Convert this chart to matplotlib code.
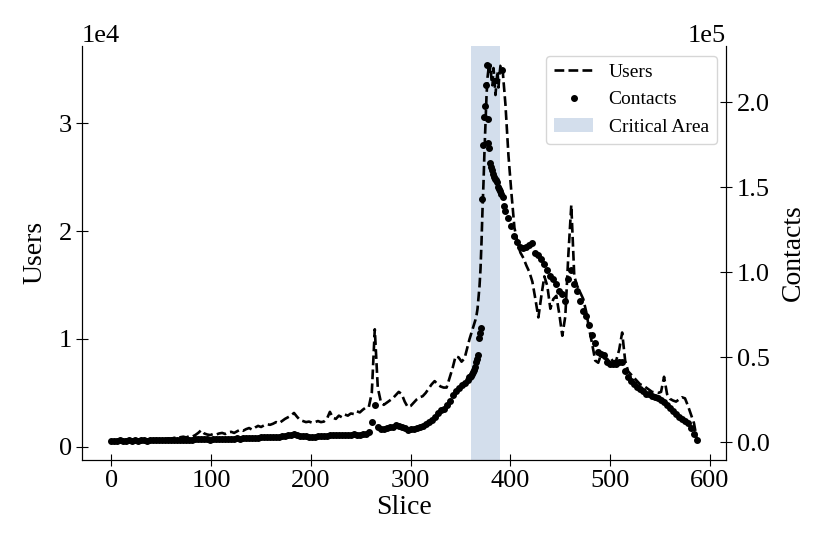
import matplotlib
matplotlib.use("Agg")
import matplotlib.pyplot as plt
from matplotlib.ticker import MultipleLocator

plt.rcParams["font.family"] = ["Liberation Serif", "DejaVu Serif"]

# slice index, step 3 outside the critical window, step 1 inside it
slices = (list(range(0, 358, 3)) + list(range(358, 396)) + list(range(398, 588, 3)))

users = [
    550, 600, 650, 580, 640, 700, 620, 680, 600, 650, 720, 640, 700, 620, 680, 750,
    700, 650, 720, 800, 760, 850, 800, 900, 950, 880, 1000, 950, 1100, 1300, 1550, 1250,
    1150, 1100, 1200, 1150, 1250, 1300, 1200, 1350, 1400, 1300, 1450, 1600, 1500, 1650, 1750, 1600,
    1800, 1950, 1850, 2000, 2100, 2050, 2150, 2300, 2200, 2400, 2600, 2750, 2900, 3150, 2800, 2500,
    2400, 2300, 2350, 2250, 2300, 2400, 2300, 2350, 2600, 3250, 2700, 2600, 2900, 2750, 3000, 2900,
    3100, 3050, 3300, 3200, 3450, 3650, 3700, 5000, 10900, 5500, 4200, 3900, 4100, 4300, 4500, 4800,
    5100, 4900, 4200, 3700, 3800, 4100, 4400, 4600, 4700, 5000, 5400, 5800, 6100, 5800, 5600, 5500,
    5500, 6400, 7300, 8400, 8300, 7900, 8200, 9300,
    # 358 .. 395
    9700, 10000, 10300, 10600, 10900, 11200, 11500, 11800, 12200, 12800, 13800, 14900, 16500, 19000,
    22000, 24500, 27500, 30000, 32500, 34200, 35000, 34600, 35400, 34000, 33500, 35100, 34000, 32600,
    33800, 34800, 33300, 34500, 35300, 35400, 35100, 34000, 32800, 31700,
    # 398 .. 587
    27000, 23500, 20300, 19000, 18000, 17500, 16800, 16200, 15300, 13700, 12000, 14000, 15800, 14900,
    12800, 13700, 14000, 12300, 10300, 12100, 17700, 22400, 15800, 14900, 14300, 13700, 12500, 10900,
    9500, 8000, 7800, 8600, 8200, 8100, 8300, 7900, 8000, 9000, 10600, 8000, 7000, 6700, 6400, 6100,
    5800, 5700, 5500, 5300, 5100, 5050, 5000, 5100, 6500, 4900, 4450, 4300, 4200, 4400, 4600, 4500,
    3800, 3000, 2200, 650,
]

contacts = [
    600, 800, 700, 900, 700, 800, 1000, 800, 900, 700, 900, 1000, 800, 900, 1000, 1100,
    900, 1000, 1200, 1100, 1000, 1200, 1300, 1100, 1200, 1300, 1400, 1300, 1500, 1600, 1800, 1600,
    1500, 1400, 1500, 1600, 1500, 1700, 1800, 1700, 1900, 2000, 2100, 2000, 2200, 2300, 2400, 2300,
    2500, 2600, 2700, 2800, 2900, 3000, 3100, 3000, 3200, 3400, 3600, 3900, 4300, 4500, 4000, 3700,
    3500, 3300, 3100, 3200, 3100, 3300, 3500, 3600, 3800, 4200, 4000, 3900, 4200, 4100, 4400, 4300,
    4200, 4500, 4400, 4300, 4600, 4800, 6000, 12000, 22000, 9000, 7500, 7900, 8300, 8700, 9100, 9800,
    9500, 9000, 8000, 7200, 7400, 7700, 8300, 9000, 9600, 10500, 11500, 13000, 14500, 17000, 19000, 19500,
    21500, 24000, 27500, 30000, 32000, 33500, 35000, 36500,
    # 358 .. 395
    38000, 38500, 39000, 40000, 41000, 42500, 44000, 47000, 49000, 51000, 61000, 64000, 67000, 143000,
    175000, 191000, 198000, 210000, 222000, 190000, 176000, 173000, 164000, 162000, 160000, 158000, 156000, 155000,
    154000, 153000, 150000, 149000, 148000, 146000, 219000, 144000, 139000, 136000,
    # 398 .. 587
    132000, 127000, 121000, 118000, 115000, 114000, 114500, 116000, 117000, 111000, 110000, 108000, 105000, 101000,
    98000, 96000, 93000, 89000, 87000, 83000, 96000, 101000, 93000, 89000, 83000, 77000, 74000, 69000,
    63000, 58000, 53000, 52000, 51000, 47000, 46000, 46000, 46000, 47000, 47000, 42000, 38000, 36000, 34000, 32500,
    31000, 30000, 28500, 28000, 27000, 26500, 26000, 25000, 23500, 21500, 20000, 18000, 16500, 14500, 13500, 12500,
    11000, 8000, 4500, 1000,
]

critical_start, critical_end = 360, 390


def main():
    fig = plt.figure(figsize=(8.3, 5.54), dpi=100)
    ax1 = fig.add_axes([0.099, 0.17, 0.776, 0.747])
    ax2 = ax1.twinx()

    l1, = ax1.plot(slices, users, "--", color="black", lw=1.9, label="Users")
    span = ax1.axvspan(critical_start, critical_end, color="#B0C4DE", alpha=0.55,
                       lw=0, label="Critical Area")
    l2, = ax2.plot(slices, contacts, ".", color="black", ms=8, label="Contacts")

    ax1.set_xlabel("Slice", fontsize=20, labelpad=2)
    ax1.set_ylabel("Users", fontsize=20, labelpad=8)
    ax2.set_ylabel("Contacts", fontsize=20, labelpad=8)

    ax1.yaxis.set_major_locator(MultipleLocator(1e4))
    ax2.yaxis.set_major_locator(MultipleLocator(0.5e5))
    ax1.ticklabel_format(axis="y", style="sci", scilimits=(0, 0))
    ax2.ticklabel_format(axis="y", style="sci", scilimits=(0, 0))

    for ax in (ax1, ax2):
        ax.spines["top"].set_visible(False)
        ax.tick_params(direction="inout", length=8, labelsize=19)
        ax.yaxis.get_offset_text().set_fontsize(19)

    ax2.legend([l1, l2, span], ["Users", "Contacts", "Critical Area"],
               loc="upper right", fontsize=14)

    plt.savefig("out.png", dpi=100)
    plt.close()


if __name__ == "__main__":
    main()
